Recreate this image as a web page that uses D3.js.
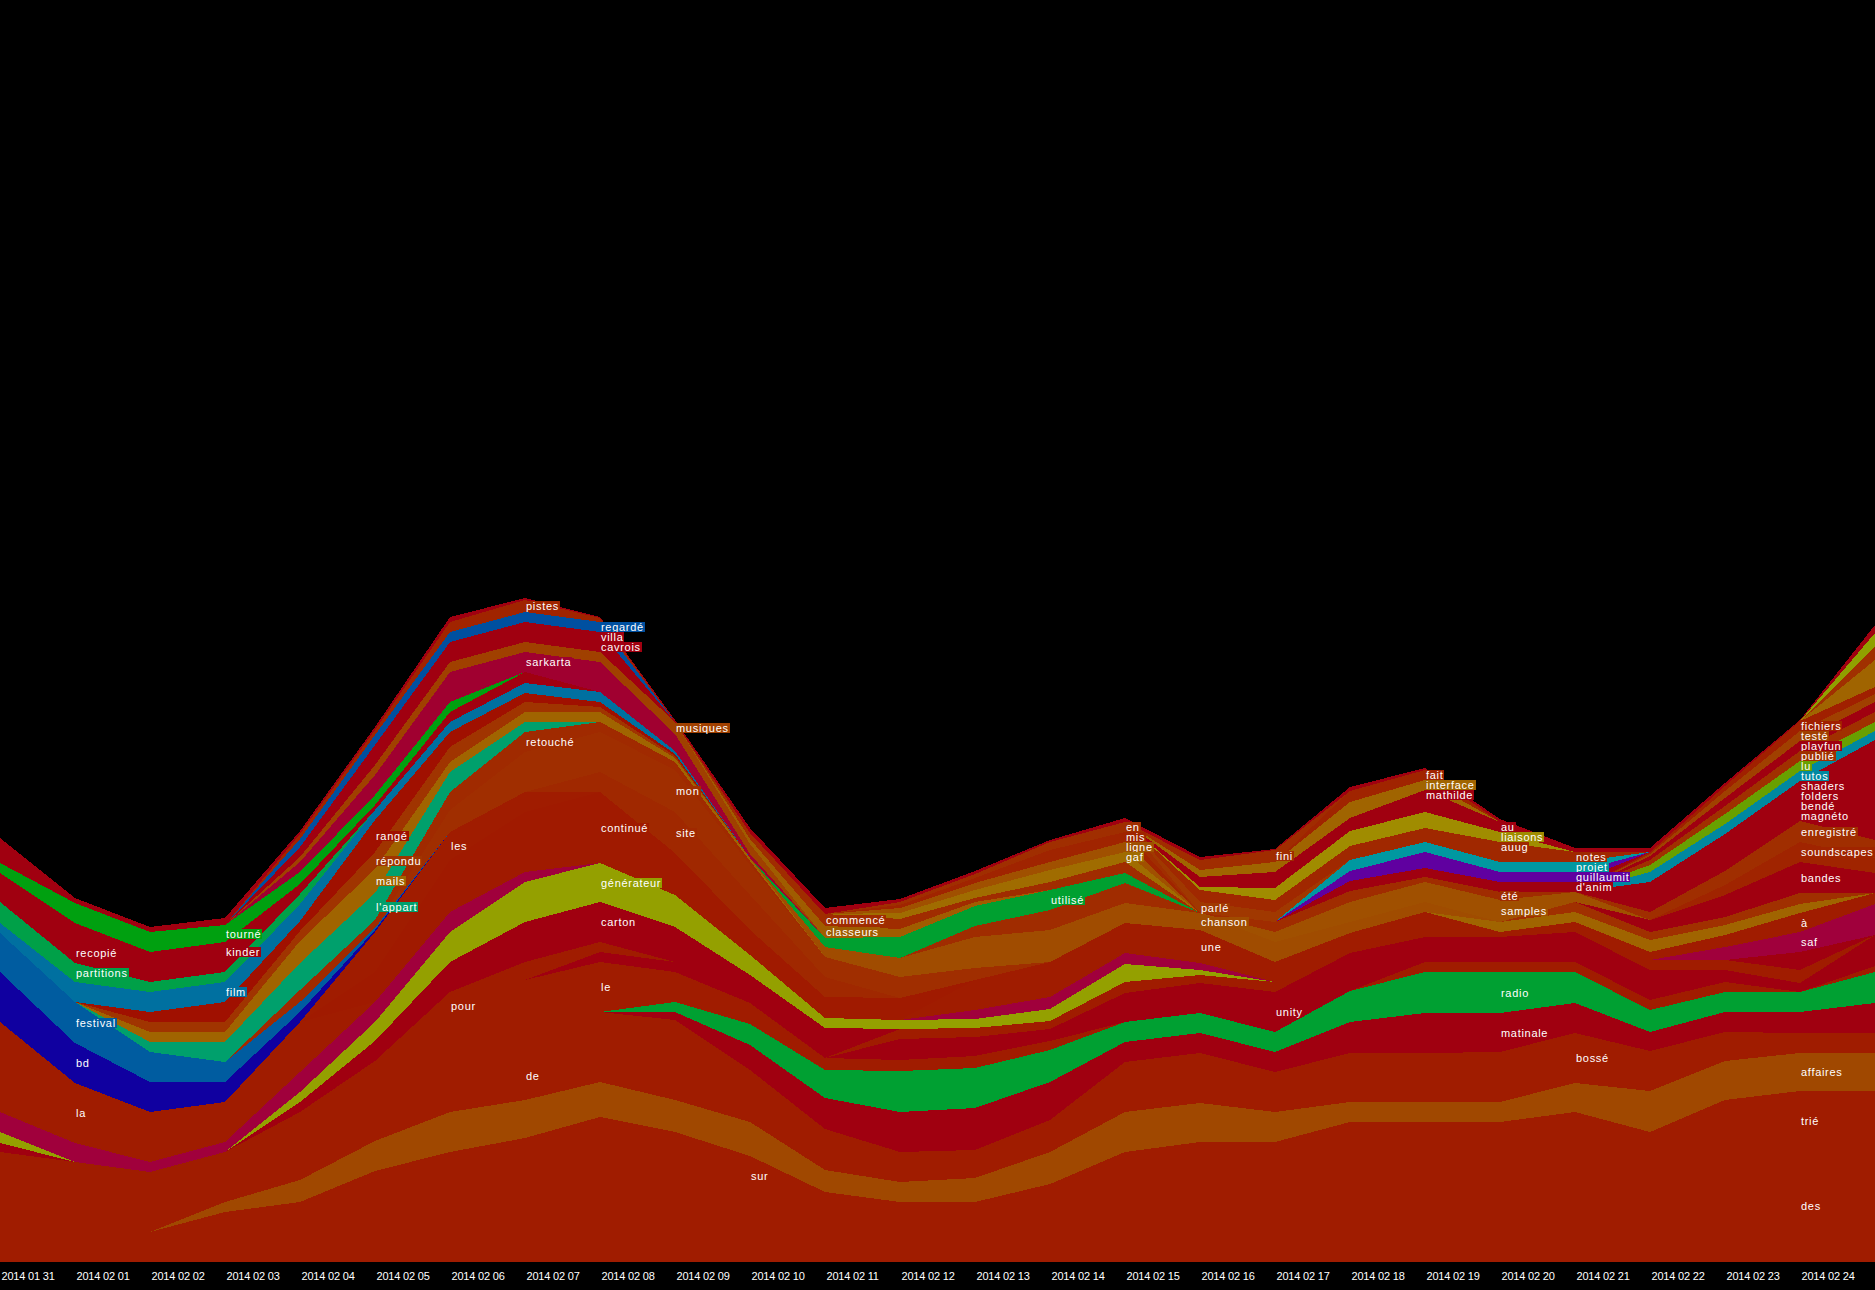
<!DOCTYPE html>
<html><head><meta charset="utf-8">
<script src="https://cdn.jsdelivr.net/npm/d3@7"></script>
<style>
html,body{margin:0;padding:0;background:#000;overflow:hidden}
svg{display:block}
</style></head><body>
<svg id="c" width="1875" height="1290"></svg>
<script>
// ---------- DATA ----------
const dates = ["2014 01 31","2014 02 01","2014 02 02","2014 02 03","2014 02 04","2014 02 05","2014 02 06","2014 02 07","2014 02 08","2014 02 09","2014 02 10","2014 02 11","2014 02 12","2014 02 13","2014 02 14","2014 02 15","2014 02 16","2014 02 17","2014 02 18","2014 02 19","2014 02 20","2014 02 21","2014 02 22","2014 02 23","2014 02 24","2014 02 25"];

// stacking order, bottom to top (·xx = unlabelled words)
const stackOrder = ["des","sur","trié","affaires","bossé","de","matinale","radio","le","unity","pour","carton","générateur","saf","à","·g1","·r1","bandes","soundscapes","une","la","continué","les","bd","festival","site","mon","retouché","l'appart","mails","répondu","rangé","film","partitions","recopié","kinder","tourné","chanson","samples","été","enregistré","magnéto","bendé","folders","shaders","tutos","lu","publié","playfun","testé","fichiers","d'anim","guillaumit","projet","notes","utilisé","sarkarta","musiques","classeurs","commencé","gaf","ligne","mis","en","parlé","auug","liaisons","au","mathilde","interface","fait","fini","·p1","·p2","·p3","cavrois","villa","regardé","pistes","·top"];

// [word, first day index, weights from that day on]
const lowerSeries = [
  ["des", 0, [10,20,30,50,60,80,95,100,110,100,66,55,50,50,60,80,90,90,100,100,100,105,100,110,112,112]],
  ["sur", 5, [11,15,24,35,30,40,15,10,10,18,10]],
  ["trié", 15, [20,30,30,40,40,40,45,30,52,59,59]],
  ["affaires", 3, [10,22,30,40,38,35,32,34,22,20,24,32,40,39,30,20,20,20,29,41,39,38,38]],
  ["bossé", 15, [50,50,40,49,49,50,50,40,29,20,20]],
  ["de", 0, [100,80,60,50,68,55,50,48,70,80,52,41,30,28,32]],
  ["matinale", 9, [8,25,31,40,42,38,20,20,20,31,40,39,30,19,20,21,30]],
  ["radio", 9, [10,21,28,41,40,32,20,20,20,31,41,41,31,22,20,20,31]],
  ["le", 5, [5,42,72,50,30,21,12,11,12,9,0,0,0,0,10,10,10,10,10,0,6]],
  ["unity", 8, [10,10,0,0,21,19,12,29,30,40,38,25,25,30,30,12,9,31]],
  ["pour", 5, [20,28,18,10,0,0,0,10,9,8,11,8,10,20,25,5,10,10,10,13]],
  ["carton", 0, [9,0,0,0,10,20,30,40,40,35,28,30,0,0,0,0,0,0,0,0,0,0,0,0,18]],
  ["générateur", 0, [11,0,0,0,10,19,30,40,39,32,20,10,9,9,12,18,5]],
  ["saf", 0, [20,19,10,10,20,20,20,10,0,0,0,0,0,9,12,11,7,0,0,0,0,0,0,13,20,31]],
  ["une", 13, [30,35,30,33,20]]
];
const leftSeries = [
  ["la", 0, [90,60,50,40,50]],
  ["bd", 0, [50,40,30,20,10,2]],
  ["festival", 0, [39,41,30,20,10,2]],
  ["l'appart", 2, [10,20,27,27,20,10]],
  ["mails", 2, [10,10,22,24,10,10,10,4,3]],
  ["répondu", 2, [10,10,10,17,15,10,5,2]],
  ["rangé", 2, [10,20,10,32,15,9,5,2]],
  ["film", 0, [10,20,20,20,17,10,10,10,10,3]],
  ["partitions", 0, [21,19,10,10,10]],
  ["recopié", 0, [20,20,10,10]],
  ["kinder", 0, [9,20,20,20,10,5,10,11]],
  ["tourné", 0, [10,20,20,17,12,10,10]]
];
const peakSeries = [
  ["continué", 5, [30,52,60,71,42,25,21,22]],
  ["les", 5, [40,28,20]],
  ["site", 8, [20,41,35,20]],
  ["mon", 6, [22,40,40,42,30,20,21,12]],
  ["retouché", 4, [12,8,18,20,10,8,4]],
  ["sarkarta", 4, [10,20,30,20,30,17,4]],
  ["musiques", 4, [5,10,10,10,10,12,10]],
  ["cavrois", 4, [5,10,10,10,10]],
  ["villa", 4, [5,10,10,10,10]],
  ["regardé", 4, [8,10,10,10,10]],
  ["pistes", 4, [5,5,10,12,4]]
];
const midSeries = [
  ["chanson", 11, [10,19,31,32,20,17,20,11,10]],
  ["samples", 17, [10,20,20,22,10]],
  ["été", 13, [11,20,20,0,10,11,5,8]],
  ["utilisé", 11, [9,21,20,20,10]],
  ["classeurs", 10, [5,12,8,4]],
  ["commencé", 10, [6,12,10,4,8,11]],
  ["gaf", 12, [6,8,12,10]],
  ["ligne", 12, [5,7,8,10]],
  ["mis", 12, [3,5,12,10]],
  ["en", 12, [3,4,8,10]],
  ["parlé", 16, [11,10]],
  ["auug", 16, [12,12,14,14,10]],
  ["liaisons", 16, [3,12,15,16,10]],
  ["au", 17, [6,5,12,10]],
  ["mathilde", 16, [10,10,8,10]],
  ["interface", 16, [7,10,16,10]],
  ["fait", 18, [11,10]],
  ["fini", 16, [10,12]],
  ["d'anim", 18, [10,9,10,10]],
  ["guillaumit", 18, [10,16,10,10]],
  ["projet", 18, [11,10,10,10]],
  ["notes", 20, [10,10]]
];
const rightSeries = [
  ["à", 22, [8,12,19,11]],
  ["·g1", 20, [10,10,12,10,9]],
  ["·r1", 21, [10,8,8,11]],
  ["bandes", 22, [12,22,31,20]],
  ["soundscapes", 23, [10,20,15]],
  ["enregistré", 22, [8,14,21,18]],
  ["magnéto", 22, [8,10,10,25]],
  ["bendé", 22, [8,9,10,25]],
  ["folders", 22, [7,9,10,25]],
  ["shaders", 22, [7,9,10,25]],
  ["tutos", 22, [10,10,10,9]],
  ["lu", 22, [7,10,10,9]],
  ["publié", 22, [5,8,10,10]],
  ["playfun", 22, [4,8,10,10]],
  ["testé", 22, [2,7,10,8]],
  ["fichiers", 22, [2,5,10,7]],
  ["·p1", 25, [27]],
  ["·p2", 25, [13]],
  ["·p3", 25, [14]],
  ["·top", 0, [25,5,5,7,3,3,5,2,1,2,5,6,3,3,2,4,3,1,4,2,3,4,4,3,1,8]]
];

// day on which each word's label is written
const labelDays = [
  ["recopié",1],["partitions",1],["festival",1],["bd",1],["la",1],
  ["tourné",3],["kinder",3],["film",3],
  ["rangé",5],["répondu",5],["mails",5],["l'appart",5],
  ["les",6],["pour",6],
  ["pistes",7],["sarkarta",7],["retouché",7],["de",7],
  ["regardé",8],["villa",8],["cavrois",8],["continué",8],["générateur",8],["carton",8],["le",8],
  ["musiques",9],["mon",9],["site",9],
  ["sur",10],
  ["commencé",11],["classeurs",11],
  ["utilisé",14],
  ["en",15],["mis",15],["ligne",15],["gaf",15],
  ["parlé",16],["chanson",16],["une",16],
  ["fini",17],["unity",17],
  ["fait",19],["interface",19],["mathilde",19],
  ["au",20],["liaisons",20],["auug",20],["été",20],["samples",20],["radio",20],["matinale",20],
  ["notes",21],["projet",21],["guillaumit",21],["d'anim",21],["bossé",21],
  ["fichiers",24],["testé",24],["playfun",24],["publié",24],["lu",24],["tutos",24],["shaders",24],["folders",24],["bendé",24],["magnéto",24],["enregistré",24],["soundscapes",24],["bandes",24],["à",24],["saf",24],["affaires",24],["trié",24],["des",24]
];

// ---------- STYLE ----------
const R1="#a01c00", R2="#a00010";
const wordColor = {
 "des":R1,"sur":R1,"trié":R1,"affaires":"#a04800","bossé":R1,"de":R1,
 "matinale":R2,"radio":"#00a032","le":R1,"unity":R2,"pour":R1,"carton":R2,
 "générateur":"#94a000","saf":"#a0003c","à":R1,"·g1":"#a06400","·r1":"#a03000",
 "bandes":R2,"soundscapes":"#a02400","une":R1,"la":R1,"continué":"#a01a00","les":R1,
 "bd":"#1000a0","festival":"#005ca0","site":"#a02800","mon":"#a02e00","retouché":"#a02a00",
 "l'appart":"#00a06c","mails":"#a06400","répondu":"#a03400","rangé":"#a01000","film":"#0070a0",
 "partitions":"#00a048","recopié":R2,"kinder":R2,"tourné":"#00a010",
 "chanson":"#a04c00","samples":"#a05000","été":"#a02c00","enregistré":"#a02e00","d'anim":R2,
 "guillaumit":"#6000a0","projet":"#0098a0","notes":"#a02800","magnéto":R2,"bendé":R2,"folders":R2,"shaders":R2,
 "tutos":"#0088a0","lu":"#68a000","publié":"#a03000","playfun":R2,"testé":"#a04000","fichiers":"#a02000",
 "utilisé":"#00a030","sarkarta":"#a00030","musiques":"#a04000","classeurs":"#a05c00","commencé":"#a02c00",
 "gaf":"#a06c00","ligne":"#a05000","mis":"#a02400","en":"#a02e00","parlé":"#a03800","auug":"#a02800",
 "liaisons":"#a08c00","au":R2,"mathilde":R2,"interface":"#a06400","fait":"#a02400","fini":"#a02c00",
 "·p1":"#a06400","·p2":"#a03000","·p3":"#90a000","cavrois":R2,"villa":R2,"regardé":"#0050a0",
 "pistes":"#a02400","·top":R2
};

// ---------- BUILD ----------
const W = 1875, H = 1290, BASE = 1262;
const series = new Map([...lowerSeries, ...leftSeries, ...peakSeries, ...midSeries, ...rightSeries]
  .map(([w, s, v]) => [w, {s, v}]));
const table = dates.map((d, i) => {
  const row = {i};
  stackOrder.forEach(w => {
    const e = series.get(w);
    const k = i - e.s;
    row[w] = (e && k >= 0 && k < e.v.length) ? e.v[k] : 0;
  });
  return row;
});
const layers = d3.stack().keys(stackOrder)(table);

const x = d3.scaleLinear().domain([0, dates.length - 1]).range([0, W]);
const y = d3.scaleLinear().domain([0, BASE]).range([BASE, 0]);

const svg = d3.select("#c");
svg.append("rect").attr("width", W).attr("height", H).attr("fill", "#000");

const area = d3.area()
  .x(d => x(d.data.i))
  .y0(d => y(d[0]))
  .y1(d => y(d[1]))
  .curve(d3.curveLinear);

svg.append("g").selectAll("path").data(layers).join("path")
  .attr("fill", d => wordColor[d.key])
  .attr("shape-rendering", "crispEdges")
  .attr("d", area);

// word labels
const lg = svg.append("g").attr("font-family", "'Liberation Sans', Arial, sans-serif")
  .attr("font-size", 11).attr("letter-spacing", "0.7px");
labelDays.forEach(([w, day]) => {
  const layer = layers.find(l => l.key === w);
  const p = layer[day];
  const cy = y((p[0] + p[1]) / 2);
  const tx = x(day) + 1;
  const g = lg.append("g");
  const rect = g.append("rect").attr("fill", wordColor[w]).attr("shape-rendering", "crispEdges");
  const t = g.append("text").attr("x", tx).attr("y", cy + 4).attr("fill", "#fff").text(w);
  const len = t.node().getComputedTextLength();
  rect.attr("x", tx - 1).attr("y", cy - 5).attr("width", len + 2).attr("height", 10);
});

// date axis (the last day sits on the right edge and has no visible label)
const axis = d3.axisBottom(x).tickValues(d3.range(dates.length - 1)).tickFormat(i => dates[i]).tickSize(0);
const ag = svg.append("g").attr("transform", `translate(0,${BASE})`).call(axis);
ag.select(".domain").remove();
ag.selectAll(".tick text")
  .attr("text-anchor", "start").attr("x", 1).attr("y", 18).attr("dy", 0)
  .attr("fill", "#fff").attr("font-size", 11).attr("letter-spacing", "-0.2px")
  .attr("font-family", "'Liberation Sans', Arial, sans-serif");
</script>
</body></html>
